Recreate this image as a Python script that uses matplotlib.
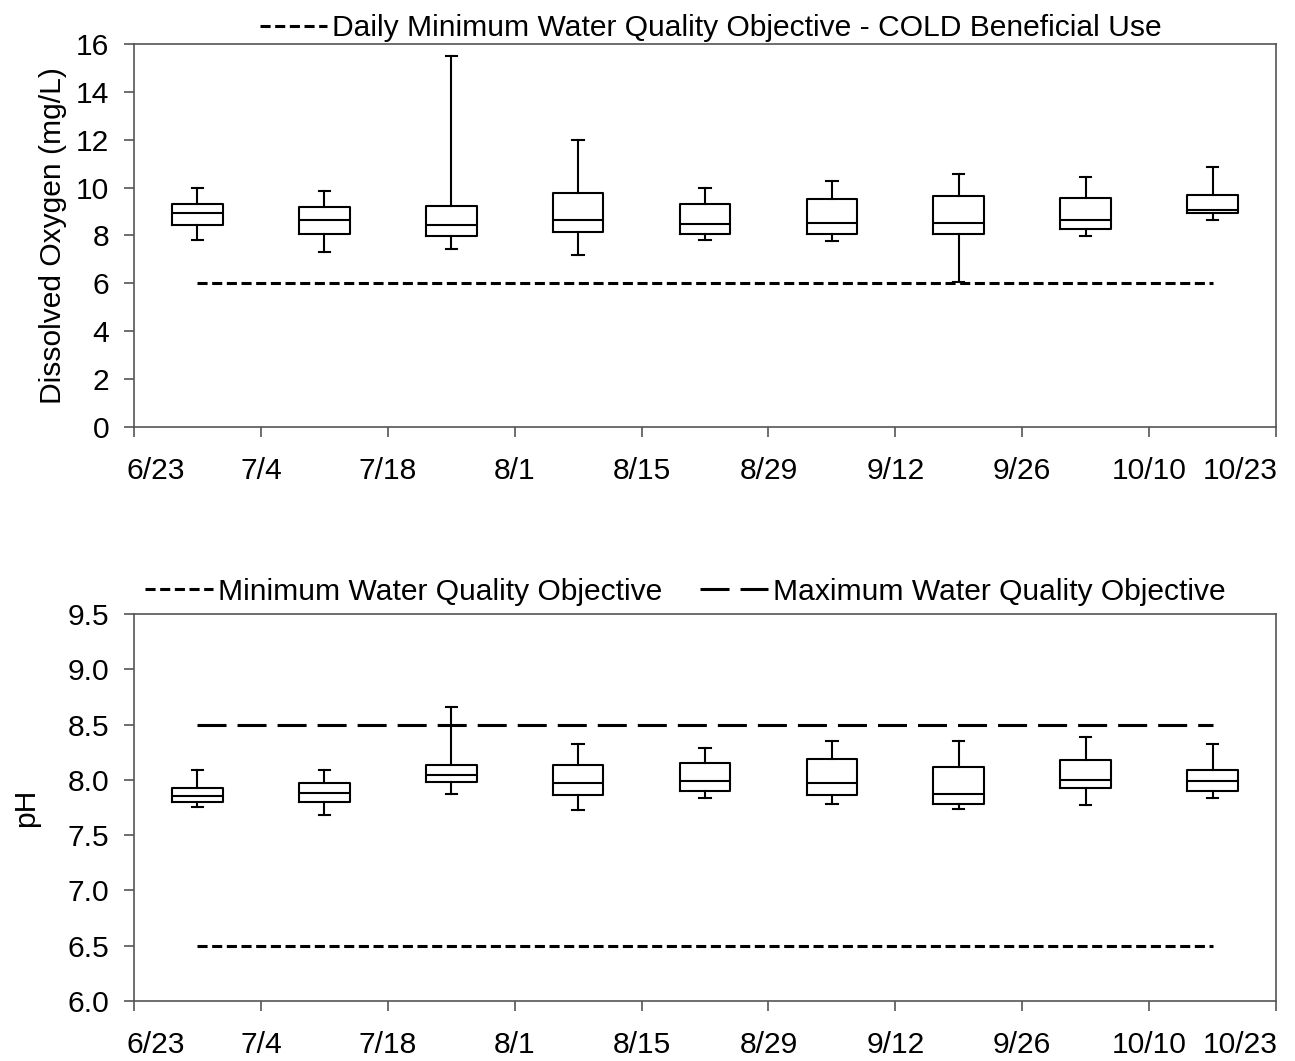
import matplotlib.pyplot as plt
from matplotlib.transforms import ScaledTranslation

plt.rcParams['font.family'] = ['Liberation Sans', 'DejaVu Sans']

date_labels = ['6/23', '7/4', '7/18', '8/1', '8/15', '8/29', '9/12', '9/26', '10/10', '10/23']
box_pos = [0.5, 1.5, 2.5, 3.5, 4.5, 5.5, 6.5, 7.5, 8.5]

# dissolved oxygen (mg/L) box statistics per sampling period
do_low = [7.82, 7.33, 7.43, 7.18, 7.82, 7.78, 6.06, 7.97, 8.63]
do_q1 = [8.42, 8.07, 7.96, 8.13, 8.06, 8.06, 8.07, 8.26, 8.92]
do_med = [8.93, 8.63, 8.43, 8.63, 8.49, 8.53, 8.53, 8.63, 9.08]
do_q3 = [9.32, 9.18, 9.25, 9.77, 9.32, 9.52, 9.63, 9.57, 9.69]
do_high = [9.98, 9.87, 15.5, 11.99, 9.98, 10.27, 10.56, 10.44, 10.87]
do_objective = 6.0

# pH box statistics per sampling period
ph_low = [7.75, 7.68, 7.87, 7.73, 7.84, 7.78, 7.74, 7.77, 7.84]
ph_q1 = [7.80, 7.80, 7.98, 7.86, 7.90, 7.86, 7.78, 7.93, 7.90]
ph_med = [7.85, 7.88, 8.04, 7.97, 7.99, 7.97, 7.87, 8.00, 7.99]
ph_q3 = [7.93, 7.97, 8.13, 8.13, 8.15, 8.19, 8.12, 8.18, 8.09]
ph_high = [8.09, 8.09, 8.66, 8.32, 8.29, 8.35, 8.35, 8.39, 8.32]
ph_min_obj = 6.5
ph_max_obj = 8.5

short_dash = (0, (3.3, 1.5))
long_dash = (0, (9.5, 3.6))
lw = 1.5
fs = 21.6


def draw_boxes(ax, low, q1, med, q3, high):
    stats = []
    for i in range(len(box_pos)):
        stats.append(dict(whislo=low[i], q1=q1[i], med=med[i], q3=q3[i], whishi=high[i]))
    props = dict(color='black', linewidth=lw)
    ax.bxp(stats, positions=box_pos, widths=0.4, capwidths=0.09, showfliers=False,
           boxprops=props, whiskerprops=props, capprops=props,
           medianprops=dict(color='black', linewidth=lw), manage_ticks=False)


def style_axis(ax):
    ax.set_xlim(0, 9)
    ax.set_xticks(range(10))
    ax.set_xticklabels(date_labels)
    for s in ax.spines.values():
        s.set_color('#555555')
        s.set_linewidth(1.2)
    ax.tick_params(axis='both', direction='out', color='#555555', width=1.2,
                   labelsize=fs, length=7)
    ax.tick_params(axis='x', pad=14.5)
    ax.tick_params(axis='y', pad=11)
    # end labels are pulled inside so they don't run off the figure
    labels = ax.get_xticklabels()
    labels[0].set_ha('left')
    labels[0].set_transform(labels[0].get_transform() +
                            ScaledTranslation(-8 / 100, 0, fig.dpi_scale_trans))
    labels[-1].set_ha('right')
    labels[-1].set_transform(labels[-1].get_transform() +
                             ScaledTranslation(2 / 100, 0, fig.dpi_scale_trans))


fig = plt.figure(figsize=(12.95, 10.61), dpi=100)
ax1 = fig.add_axes([0.1035, 0.5976, 0.8818, 0.3609])
ax2 = fig.add_axes([0.1035, 0.0566, 0.8818, 0.3647])

# dissolved oxygen panel
draw_boxes(ax1, do_low, do_q1, do_med, do_q3, do_high)
ax1.plot([box_pos[0], box_pos[-1]], [do_objective, do_objective], color='black',
         linewidth=2.2, linestyle=short_dash, dash_capstyle='butt',
         label='Daily Minimum Water Quality Objective - COLD Beneficial Use')
ax1.set_ylim(0, 16)
ax1.set_yticks(range(0, 17, 2))
ax1.set_ylabel('Dissolved Oxygen (mg/L)', fontsize=fs)
ax1.yaxis.set_label_coords(-0.059, 0.5)
style_axis(ax1)
ax1.legend(loc='lower center', bbox_to_anchor=(0.505, 0.997), frameon=False,
           fontsize=fs, handlelength=2.25, handletextpad=0.17, borderaxespad=0,
           borderpad=0.1)

# pH panel
draw_boxes(ax2, ph_low, ph_q1, ph_med, ph_q3, ph_high)
ax2.plot([box_pos[0], box_pos[-1]], [ph_min_obj, ph_min_obj], color='black',
         linewidth=2.2, linestyle=short_dash, dash_capstyle='butt',
         label='Minimum Water Quality Objective')
ax2.plot([box_pos[0], box_pos[-1]], [ph_max_obj, ph_max_obj], color='black',
         linewidth=2.2, linestyle=long_dash, dash_capstyle='butt',
         label='Maximum Water Quality Objective')
ax2.set_ylim(6.0, 9.5)
ax2.set_yticks([6.0, 6.5, 7.0, 7.5, 8.0, 8.5, 9.0, 9.5])
ax2.set_yticklabels(['%.1f' % v for v in [6.0, 6.5, 7.0, 7.5, 8.0, 8.5, 9.0, 9.5]])
ax2.set_ylabel('pH', fontsize=fs)
ax2.yaxis.set_label_coords(-0.082, 0.5)
style_axis(ax2)
ax2.legend(loc='lower center', bbox_to_anchor=(0.483, 1.013), frameon=False, ncol=2,
           fontsize=fs, handlelength=2.25, handletextpad=0.17, columnspacing=1.27,
           borderaxespad=0, borderpad=0.1)

fig.savefig('out.png', dpi=100)
